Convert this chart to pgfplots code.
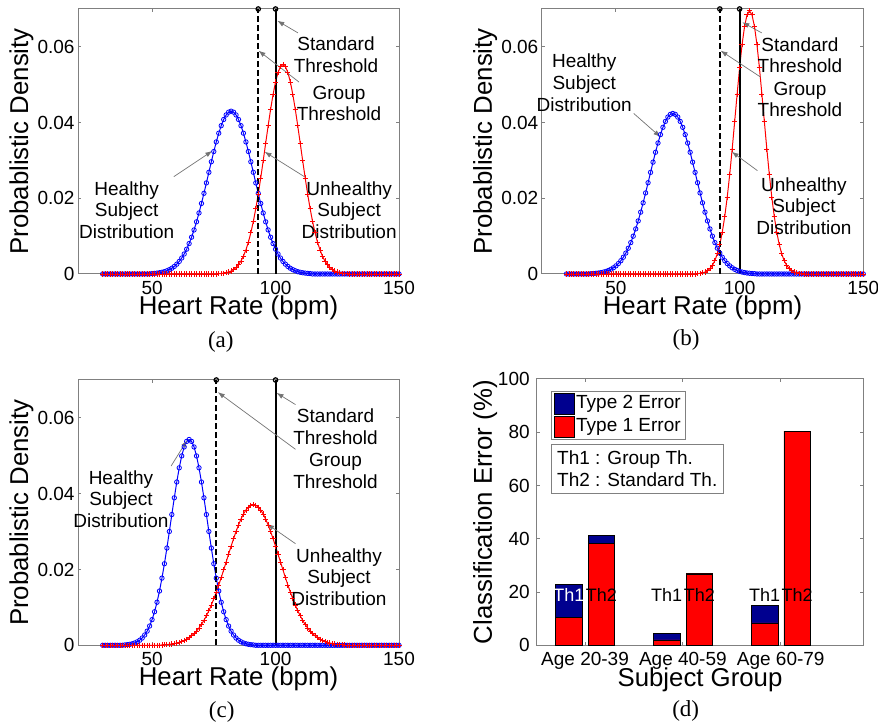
\documentclass[border=0pt]{standalone}
\usepackage{fontspec}
\setmainfont{Liberation Sans}
\newfontfamily\serif{Liberation Serif}
\usepackage{pgfplots}
\pgfplotsset{compat=1.18}
\usetikzlibrary{arrows.meta}

\newcommand{\tickf}{\fontsize{9.5}{11}\selectfont}
\newcommand{\thf}{\fontsize{9}{10}\selectfont}
\newcommand{\annf}{\fontsize{9.5}{10.8}\selectfont}
\newcommand{\labf}{\fontsize{12.9}{15}\selectfont}
\newcommand{\capf}{\serif\fontsize{11.5}{13}\selectfont}
\definecolor{navy}{RGB}{0,0,143}
\definecolor{frame}{gray}{0.5}

\tikzset{
  note/.style={align=center, font=\annf},
  pointer/.style={-{Latex[length=3.5pt,width=2.5pt]}, black!55, line width=0.35pt},
}
\pgfplotsset{
  mlframe/.style={scale only axis, anchor=south west, clip=false,
    axis line style={frame, line width=0.5pt}, major tick style={frame, line width=0.5pt},
    tick align=inside, major tick length=1.6pt,
    tick label style={font=\tickf}, label style={font=\labf},
    scaled ticks=false,
    /pgf/number format/assume math mode=true},
  dens/.style={mlframe, width=160.5pt, height=132.5pt,
    xmin=20, xmax=150, ymin=0, ymax=0.07,
    xtick={50,100,150}, xticklabels={50,100,150},
    ytick={0,0.02,0.04,0.06}, yticklabels={0,0.02,0.04,0.06},
    yticklabel style={xshift=1.8pt},
    xlabel={Heart Rate (bpm)}, ylabel={Probablistic Density},
    xlabel style={at={(axis description cs:0.5,-0.128)}, anchor=center},
    ylabel style={at={(axis description cs:-0.176,0.5)}, anchor=center}},
  hcurve/.style={blue, line width=0.5pt, mark=o, mark size=1.1pt, mark options={line width=0.4pt}},
  ucurve/.style={red, line width=0.5pt, mark=+, mark size=1.3pt, mark options={line width=0.4pt}},
  thr/.style={black, line width=1pt, mark=o, mark size=1.1pt, mark indices={2}, mark options={solid, fill=white, line width=0.6pt}},
  grp/.style={thr, dash pattern=on 3pt off 1.5pt},
  sq/.style={legend image code/.code={\draw[fill=#1, draw=black, line width=0.3pt] (0pt,-5.4pt) rectangle (9.7pt,5.4pt);}},
}

\begin{document}
\begin{tikzpicture}
\useasboundingbox (0,0) rectangle (439pt,363pt);

% ---------- (a)
\begin{axis}[dens, at={(39pt,226pt)}]
\addplot[hcurve] coordinates {
(30,0)(31,0)(32,0)(33,0)(34,0)(35,0)(36,0)(37,0)(38,0)(39,0)(40,0)(41,0)(42,0)(43,0)(44,0)(45,0)(46,0)(47,0)(48,0)(49,0)
(50,0.00011)(51,0.00016)(52,0.00023)(53,0.00033)(54,0.00045)(55,0.00062)(56,0.00085)(57,0.00114)(58,0.00152)(59,0.00199)
(60,0.00259)(61,0.00332)(62,0.00421)(63,0.00528)(64,0.00655)(65,0.00803)(66,0.00972)(67,0.01164)(68,0.01378)(69,0.01612)
(70,0.01863)(71,0.02130)(72,0.02406)(73,0.02686)(74,0.02965)(75,0.03235)(76,0.03489)(77,0.03719)(78,0.03918)(79,0.04081)
(80,0.04201)(81,0.04275)(82,0.04300)(83,0.04275)(84,0.04201)(85,0.04081)(86,0.03918)(87,0.03719)(88,0.03489)(89,0.03235)
(90,0.02965)(91,0.02686)(92,0.02406)(93,0.02130)(94,0.01863)(95,0.01612)(96,0.01378)(97,0.01164)(98,0.00972)(99,0.00803)
(100,0.00655)(101,0.00528)(102,0.00421)(103,0.00332)(104,0.00259)(105,0.00199)(106,0.00152)(107,0.00114)(108,0.00085)(109,0.00062)
(110,0.00045)(111,0.00033)(112,0.00023)(113,0.00016)(114,0.00011)(115,0)(116,0)(117,0)(118,0)(119,0)
(120,0)(121,0)(122,0)(123,0)(124,0)(125,0)(126,0)(127,0)(128,0)(129,0)(130,0)(131,0)(132,0)(133,0)(134,0)
(135,0)(136,0)(137,0)(138,0)(139,0)(140,0)(141,0)(142,0)(143,0)(144,0)(145,0)(146,0)(147,0)(148,0)(149,0)(150,0)};
\addplot[ucurve] coordinates {
(30,0)(31,0)(32,0)(33,0)(34,0)(35,0)(36,0)(37,0)(38,0)(39,0)(40,0)(41,0)(42,0)(43,0)(44,0)(45,0)(46,0)(47,0)(48,0)(49,0)
(50,0)(51,0)(52,0)(53,0)(54,0)(55,0)(56,0)(57,0)(58,0)(59,0)(60,0)(61,0)(62,0)(63,0)(64,0)(65,0)(66,0)(67,0)(68,0)(69,0)
(70,0)(71,0)(72,0)(73,0)(74,0)(75,0)(76,0)
(77,0.00008)(78,0.00014)(79,0.00022)(80,0.00034)(81,0.00053)(82,0.00080)(83,0.00118)(84,0.00172)(85,0.00245)(86,0.00343)
(87,0.00472)(88,0.00636)(89,0.00840)(90,0.01089)(91,0.01385)(92,0.01728)(93,0.02114)(94,0.02538)(95,0.02989)(96,0.03452)
(97,0.03912)(98,0.04348)(99,0.04741)(100,0.05072)(101,0.05321)(102,0.05477)(103,0.0553)(104,0.05477)(105,0.05321)(106,0.05072)
(107,0.04741)(108,0.04348)(109,0.03912)(110,0.03452)(111,0.02989)(112,0.02538)(113,0.02114)(114,0.01728)(115,0.01385)(116,0.01089)
(117,0.00840)(118,0.00636)(119,0.00472)(120,0.00343)(121,0.00245)(122,0.00172)(123,0.00118)(124,0.00080)(125,0.00053)(126,0.00034)
(127,0.00022)(128,0.00014)(129,0.00008)(130,0)(131,0)(132,0)(133,0)(134,0)(135,0)(136,0)(137,0)(138,0)(139,0)
(140,0)(141,0)(142,0)(143,0)(144,0)(145,0)(146,0)(147,0)(148,0)(149,0)(150,0)};
\addplot[grp] coordinates {(93,0)(93,0.07)};
\addplot[thr] coordinates {(100,0)(100,0.07)};
\node[note] at (axis cs:124.5,0.0579) {Standard\\Threshold};
\node[note] at (axis cs:125.7,0.0450) {Group\\Threshold};
\node[note] at (axis cs:39.7,0.0169) {Healthy\\Subject\\Distribution};
\node[note] at (axis cs:129.8,0.0169) {Unhealthy\\Subject\\Distribution};
\draw[pointer] (axis cs:109.05,0.0637) -- (axis cs:100.7,0.0669);
\draw[pointer] (axis cs:109.5,0.0507) -- (axis cs:93.1,0.0590);
\draw[pointer] (axis cs:58.8,0.0257) -- (axis cs:74.4,0.0325);
\draw[pointer] (axis cs:111.7,0.0257) -- (axis cs:95.55,0.0323);
\end{axis}

% ---------- (b)
\begin{axis}[dens, at={(270.85pt,226pt)}, width=160.8pt]
\addplot[hcurve] coordinates {
(30,0)(31,0)(32,0)(33,0)(34,0)(35,0)(36,0)(37,0)(38,0)(39,0)
(40,0.00009)(41,0.00013)(42,0.00019)(43,0.00026)(44,0.00037)(45,0.00051)(46,0.00069)(47,0.00093)(48,0.00124)(49,0.00164)
(50,0.00214)(51,0.00276)(52,0.00351)(53,0.00443)(54,0.00552)(55,0.00681)(56,0.00829)(57,0.00999)(58,0.01190)(59,0.01402)
(60,0.01633)(61,0.01880)(62,0.02141)(63,0.02411)(64,0.02684)(65,0.02954)(66,0.03215)(67,0.03460)(68,0.03682)(69,0.03874)
(70,0.04030)(71,0.04145)(72,0.04216)(73,0.0424)(74,0.04216)(75,0.04145)(76,0.04030)(77,0.03874)(78,0.03682)(79,0.03460)
(80,0.03215)(81,0.02954)(82,0.02684)(83,0.02411)(84,0.02141)(85,0.01880)(86,0.01633)(87,0.01402)(88,0.01190)(89,0.00999)
(90,0.00829)(91,0.00681)(92,0.00552)(93,0.00443)(94,0.00351)(95,0.00276)(96,0.00214)(97,0.00164)(98,0.00124)(99,0.00093)
(100,0.00069)(101,0.00051)(102,0.00037)(103,0.00026)(104,0.00019)(105,0.00013)(106,0.00009)(107,0)(108,0)(109,0)
(110,0)(111,0)(112,0)(113,0)(114,0)(115,0)(116,0)(117,0)(118,0)(119,0)(120,0)(121,0)(122,0)(123,0)(124,0)
(125,0)(126,0)(127,0)(128,0)(129,0)(130,0)(131,0)(132,0)(133,0)(134,0)(135,0)(136,0)(137,0)(138,0)(139,0)
(140,0)(141,0)(142,0)(143,0)(144,0)(145,0)(146,0)(147,0)(148,0)(149,0)(150,0)};
\addplot[ucurve] coordinates {
(30,0)(31,0)(32,0)(33,0)(34,0)(35,0)(36,0)(37,0)(38,0)(39,0)(40,0)(41,0)(42,0)(43,0)(44,0)(45,0)(46,0)(47,0)(48,0)(49,0)
(50,0)(51,0)(52,0)(53,0)(54,0)(55,0)(56,0)(57,0)(58,0)(59,0)(60,0)(61,0)(62,0)(63,0)(64,0)(65,0)(66,0)(67,0)(68,0)(69,0)
(70,0)(71,0)(72,0)(73,0)(74,0)(75,0)(76,0)(77,0)(78,0)(79,0)(80,0)(81,0)(82,0)
(83,0.00009)(84,0.00016)(85,0.00029)(86,0.00051)(87,0.00087)(88,0.00143)(89,0.00229)(90,0.00355)(91,0.00535)(92,0.00782)
(93,0.01108)(94,0.01524)(95,0.02033)(96,0.02632)(97,0.03304)(98,0.04025)(99,0.04756)(100,0.05452)(101,0.06063)(102,0.06541)
(103,0.06845)(104,0.0695)(105,0.06845)(106,0.06541)(107,0.06063)(108,0.05452)(109,0.04756)(110,0.04025)(111,0.03304)(112,0.02632)
(113,0.02033)(114,0.01524)(115,0.01108)(116,0.00782)(117,0.00535)(118,0.00355)(119,0.00229)(120,0.00143)(121,0.00087)(122,0.00051)
(123,0.00029)(124,0.00016)(125,0.00009)(126,0)(127,0)(128,0)(129,0)(130,0)(131,0)(132,0)(133,0)(134,0)
(135,0)(136,0)(137,0)(138,0)(139,0)(140,0)(141,0)(142,0)(143,0)(144,0)(145,0)(146,0)(147,0)(148,0)(149,0)(150,0)};
\addplot[grp] coordinates {(92,0)(92,0.07)};
\addplot[thr] coordinates {(100,0)(100,0.07)};
\node[note] at (axis cs:37.2,0.0505) {Healthy\\Subject\\Distribution};
\node[note] at (axis cs:124.4,0.0578) {Standard\\Threshold};
\node[note] at (axis cs:124.4,0.0461) {Group\\Threshold};
\node[note] at (axis cs:126,0.0180) {Unhealthy\\Subject\\Distribution};
\draw[pointer] (axis cs:57.2,0.0424) -- (axis cs:68.0,0.0362);
\draw[pointer] (axis cs:108.9,0.0637) -- (axis cs:101.1,0.0665);
\draw[pointer] (axis cs:108.5,0.0520) -- (axis cs:92.3,0.0590);
\draw[pointer] (axis cs:107.2,0.0273) -- (axis cs:96.8,0.0323);
\end{axis}

% ---------- (c)
\begin{axis}[dens, at={(39pt,40.35pt)}, height=132.65pt]
\addplot[hcurve] coordinates {
(30,0)(31,0)(32,0)(33,0)(34,0)(35,0)(36,0)(37,0)(38,0)
(39,0.00010)(40,0.00017)(41,0.00026)(42,0.00041)(43,0.00062)(44,0.00092)(45,0.00134)(46,0.00192)(47,0.00271)(48,0.00374)
(49,0.00508)(50,0.00677)(51,0.00885)(52,0.01136)(53,0.01432)(54,0.01772)(55,0.02152)(56,0.02566)(57,0.03003)(58,0.03450)
(59,0.03891)(60,0.04308)(61,0.04683)(62,0.04996)(63,0.05233)(64,0.05380)(65,0.0543)(66,0.05380)(67,0.05233)(68,0.04996)
(69,0.04683)(70,0.04308)(71,0.03891)(72,0.03450)(73,0.03003)(74,0.02566)(75,0.02152)(76,0.01772)(77,0.01432)(78,0.01136)
(79,0.00885)(80,0.00677)(81,0.00508)(82,0.00374)(83,0.00271)(84,0.00192)(85,0.00134)(86,0.00092)(87,0.00062)(88,0.00041)
(89,0.00026)(90,0.00017)(91,0.00010)(92,0)(93,0)(94,0)(95,0)(96,0)(97,0)(98,0)(99,0)
(100,0)(101,0)(102,0)(103,0)(104,0)(105,0)(106,0)(107,0)(108,0)(109,0)(110,0)(111,0)(112,0)(113,0)(114,0)
(115,0)(116,0)(117,0)(118,0)(119,0)(120,0)(121,0)(122,0)(123,0)(124,0)(125,0)(126,0)(127,0)(128,0)(129,0)
(130,0)(131,0)(132,0)(133,0)(134,0)(135,0)(136,0)(137,0)(138,0)(139,0)(140,0)(141,0)(142,0)(143,0)(144,0)
(145,0)(146,0)(147,0)(148,0)(149,0)(150,0)};
\addplot[ucurve] coordinates {
(30,0)(31,0)(32,0)(33,0)(34,0)(35,0)(36,0)(37,0)(38,0)(39,0)(40,0)(41,0)(42,0)(43,0)(44,0)(45,0)(46,0)(47,0)(48,0)(49,0)
(50,0)(51,0)(52,0)(53,0)
(54,0.00010)(55,0.00014)(56,0.00019)(57,0.00025)(58,0.00033)(59,0.00044)(60,0.00058)(61,0.00076)(62,0.00097)(63,0.00125)
(64,0.00158)(65,0.00199)(66,0.00248)(67,0.00307)(68,0.00376)(69,0.00457)(70,0.00550)(71,0.00657)(72,0.00778)(73,0.00913)
(74,0.01062)(75,0.01225)(76,0.01401)(77,0.01589)(78,0.01786)(79,0.01990)(80,0.02198)(81,0.02407)(82,0.02613)(83,0.02813)
(84,0.03001)(85,0.03175)(86,0.03330)(87,0.03462)(88,0.03568)(89,0.03646)(90,0.03694)(91,0.0371)(92,0.03694)(93,0.03646)
(94,0.03568)(95,0.03462)(96,0.03330)(97,0.03175)(98,0.03001)(99,0.02813)(100,0.02613)(101,0.02407)(102,0.02198)(103,0.01990)
(104,0.01786)(105,0.01589)(106,0.01401)(107,0.01225)(108,0.01062)(109,0.00913)(110,0.00778)(111,0.00657)(112,0.00550)(113,0.00457)
(114,0.00376)(115,0.00307)(116,0.00248)(117,0.00199)(118,0.00158)(119,0.00125)(120,0.00097)(121,0.00076)(122,0.00058)(123,0.00044)
(124,0.00033)(125,0.00025)(126,0.00019)(127,0.00014)(128,0.00010)(129,0)(130,0)(131,0)(132,0)(133,0)(134,0)
(135,0)(136,0)(137,0)(138,0)(139,0)(140,0)(141,0)(142,0)(143,0)(144,0)(145,0)(146,0)(147,0)(148,0)(149,0)(150,0)};
\addplot[grp] coordinates {(76,0)(76,0.07)};
\addplot[thr] coordinates {(100,0)(100,0.07)};
\node[note] at (axis cs:124.3,0.0576) {Standard\\Threshold};
\node[note] at (axis cs:124.3,0.0460) {Group\\Threshold};
\node[note] at (axis cs:37.4,0.0386) {Healthy\\Subject\\Distribution};
\node[note] at (axis cs:125.7,0.0180) {Unhealthy\\Subject\\Distribution};
\draw[pointer] (axis cs:108.1,0.0635) -- (axis cs:100.4,0.0666);
\draw[pointer] (axis cs:108.1,0.0517) -- (axis cs:76.6,0.0668);
\draw[pointer] (axis cs:57.7,0.0473) -- (axis cs:64.2,0.0541);
\draw[pointer] (axis cs:108.1,0.0268) -- (axis cs:96.6,0.0320);
\end{axis}

% ---------- (d)
\begin{axis}[mlframe, at={(268.35pt,40.35pt)}, width=163.3pt, height=133.15pt,
  xmin=0.506, xmax=3.844, ymin=0, ymax=100,
  ytick={0,20,40,60,80,100},
  xtick={1,2,3}, xticklabels={Age 20-39,Age 40-59,Age 60-79},
  xlabel={Subject Group}, ylabel={Classification Error (\%)},
  xlabel style={at={(axis description cs:0.5,-0.13)}, anchor=center},
  ylabel style={at={(axis description cs:-0.158,0.5)}, anchor=center},
  ybar stacked, bar width=0.272,
  legend style={at={(axis description cs:0.043,0.956)}, anchor=north west, draw=frame,
    font=\tickf, inner xsep=1.5pt, inner ysep=0.8pt, row sep=0.4pt,
    nodes={inner xsep=1pt, inner ysep=1pt},
    cells={anchor=west}}]
\addlegendimage{sq=navy}
\addlegendentry{Type 2 Error}
\addlegendimage{sq=red}
\addlegendentry{Type 1 Error}
\addplot[forget plot, fill=red, draw=black, line width=0.3pt] coordinates {
(0.835,10.4)(1.168,38.3)(1.835,2.0)(2.168,26.8)(2.835,8.4)(3.168,80.4)};
\addplot[forget plot, fill=navy, draw=black, line width=0.3pt] coordinates {
(0.835,12.6)(1.168,3.0)(1.835,2.6)(2.168,0.1)(2.835,6.6)(3.168,0)};
\coordinate (g1a) at (axis cs:0.835,19);
\coordinate (g1b) at (axis cs:1.168,19);
\coordinate (g2a) at (axis cs:1.835,19);
\coordinate (g2b) at (axis cs:2.168,19);
\coordinate (g3a) at (axis cs:2.835,19);
\coordinate (g3b) at (axis cs:3.168,19);
\coordinate (thbox) at (axis description cs:0.043,0.755);
\end{axis}
\node[font=\thf, text=white] at (g1a) {Th1};
\node[font=\thf] at (g1b) {Th2};
\node[font=\thf] at (g2a) {Th1};
\node[font=\thf] at (g2b) {Th2};
\node[font=\thf] at (g3a) {Th1};
\node[font=\thf] at (g3b) {Th2};
\node[draw=frame, fill=white, anchor=north west, align=left, font=\tickf, inner xsep=3pt, inner ysep=3.2pt]
  at (thbox) {Th1 : Group Th.\\Th2 : Standard Th.};

\node[font=\capf] at (110.4pt,192.15pt) {(a)};
\node[font=\capf] at (343pt,193pt) {(b)};
\node[font=\capf] at (110.85pt,7.15pt) {(c)};
\node[font=\capf] at (342.85pt,7.5pt) {(d)};
\end{tikzpicture}
\end{document}
